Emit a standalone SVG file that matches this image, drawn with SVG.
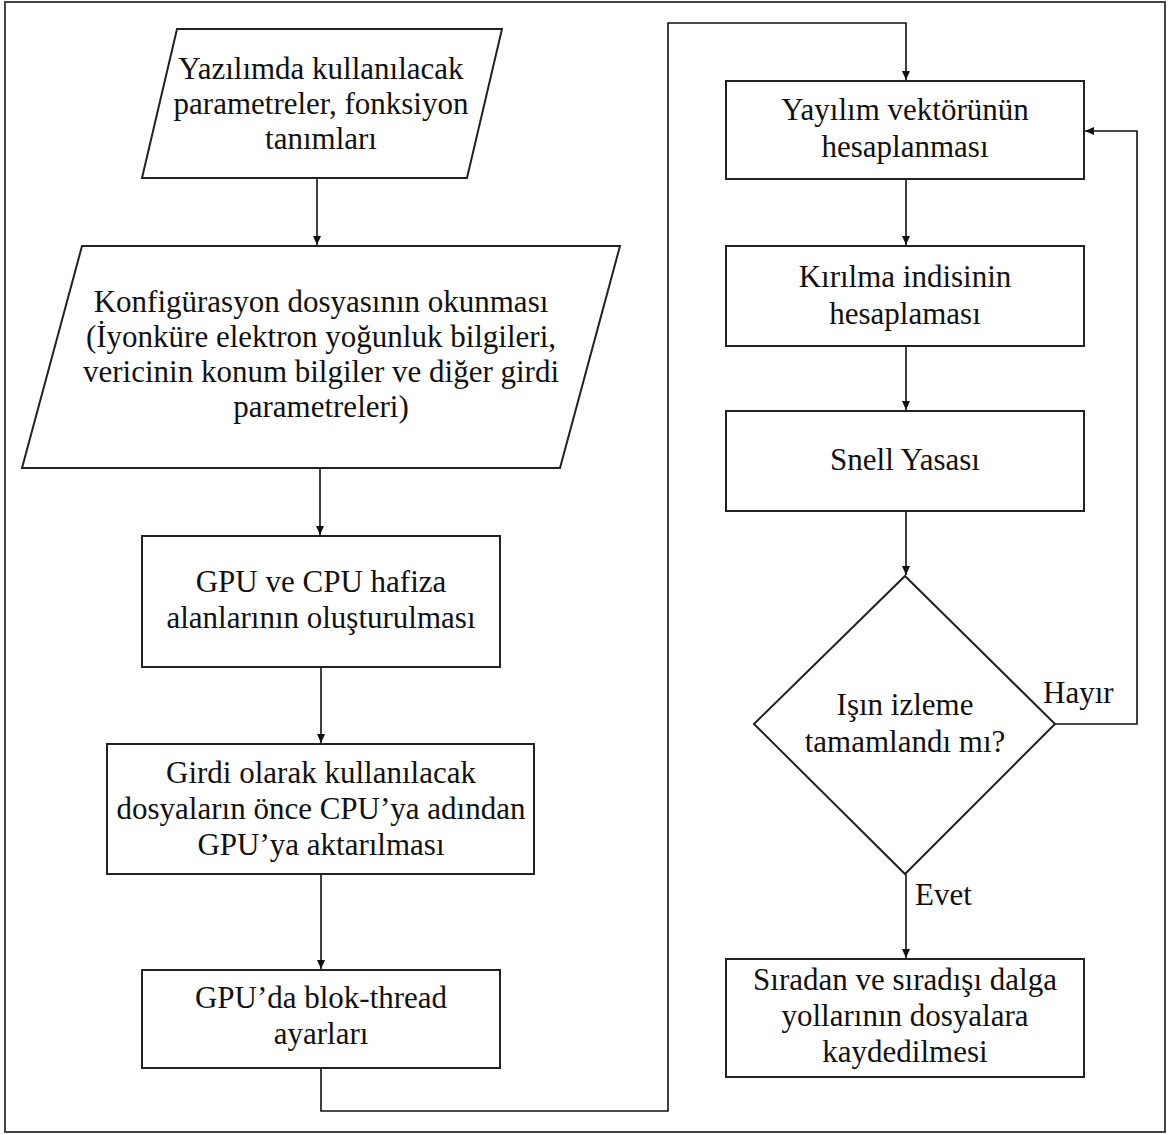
<svg xmlns="http://www.w3.org/2000/svg" width="1169" height="1135" viewBox="0 0 1169 1135">
<defs>
<marker id="arr" markerWidth="10" markerHeight="10" refX="9" refY="5" orient="auto" markerUnits="userSpaceOnUse">
<path d="M0,1 L9,5 L0,9 Z" fill="#111"/>
</marker>
<style>
.shape{fill:#fff;stroke:#222;stroke-width:2}
.t{font-family:'Liberation Serif','Times New Roman',serif;font-size:31px;fill:#111;text-anchor:middle}
.lbl{font-family:'Liberation Serif','Times New Roman',serif;font-size:31px;fill:#111}
.c{fill:none;stroke:#111;stroke-width:1.6}
</style>
</defs>
<rect x="0" y="0" width="1169" height="1135" fill="#fff"/>
<rect x="5" y="2" width="1160" height="1130" fill="none" stroke="#444" stroke-width="2"/>

<g id="connectors">
<line class="c" x1="317" y1="178" x2="317" y2="245" marker-end="url(#arr)"/>
<line class="c" x1="320" y1="468" x2="320" y2="535" marker-end="url(#arr)"/>
<line class="c" x1="321" y1="667" x2="321" y2="743" marker-end="url(#arr)"/>
<line class="c" x1="321" y1="874" x2="321" y2="969" marker-end="url(#arr)"/>
<polyline class="c" points="321,1068 321,1111 668,1111 668,23 906,23 906,80" marker-end="url(#arr)"/>
<line class="c" x1="906" y1="179" x2="906" y2="245" marker-end="url(#arr)"/>
<line class="c" x1="906" y1="346" x2="906" y2="410" marker-end="url(#arr)"/>
<line class="c" x1="906" y1="511" x2="906" y2="575" marker-end="url(#arr)"/>
<polyline class="c" points="1055,724 1137,724 1137,131 1085,131" marker-end="url(#arr)"/>
<line class="c" x1="906" y1="874" x2="906" y2="958" marker-end="url(#arr)"/>
<text class="lbl" x="1043" y="703">Hayır</text>
<text class="lbl" x="915" y="905">Evet</text>
</g>

<g id="n1">
<polygon class="shape" points="177,29 502,29 467,178 142,178"/>
<text class="t" x="321" y="79">Yazılımda kullanılacak</text>
<text class="t" x="321" y="114">parametreler, fonksiyon</text>
<text class="t" x="321" y="149">tanımları</text>
</g>

<g id="n2">
<polygon class="shape" points="82,246 620,246 560,468 22,468"/>
<text class="t" x="321" y="312">Konfigürasyon dosyasının okunması</text>
<text class="t" x="321" y="347">(İyonküre elektron yoğunluk bilgileri,</text>
<text class="t" x="321" y="382">vericinin konum bilgiler ve diğer girdi</text>
<text class="t" x="321" y="417">parametreleri)</text>
</g>

<g id="n3">
<rect class="shape" x="142" y="536" width="358" height="131"/>
<text class="t" x="321" y="592">GPU ve CPU hafiza</text>
<text class="t" x="321" y="628">alanlarının oluşturulması</text>
</g>

<g id="n4">
<rect class="shape" x="107" y="744" width="427" height="130"/>
<text class="t" x="321" y="783">Girdi olarak kullanılacak</text>
<text class="t" x="321" y="819">dosyaların önce CPU’ya adından</text>
<text class="t" x="321" y="855">GPU’ya aktarılması</text>
</g>

<g id="n5">
<rect class="shape" x="142" y="970" width="358" height="98"/>
<text class="t" x="321" y="1008">GPU’da blok-thread</text>
<text class="t" x="321" y="1044">ayarları</text>
</g>

<g id="n6">
<rect class="shape" x="726" y="81" width="358" height="98"/>
<text class="t" x="905" y="120">Yayılım vektörünün</text>
<text class="t" x="905" y="157">hesaplanması</text>
</g>

<g id="n7">
<rect class="shape" x="726" y="246" width="358" height="100"/>
<text class="t" x="905" y="287">Kırılma indisinin</text>
<text class="t" x="905" y="324">hesaplaması</text>
</g>

<g id="n8">
<rect class="shape" x="726" y="411" width="358" height="100"/>
<text class="t" x="905" y="470">Snell Yasası</text>
</g>

<g id="n9">
<polygon class="shape" points="905,576 1055,724 905,874 754,724"/>
<text class="t" x="905" y="715">Işın izleme</text>
<text class="t" x="905" y="752">tamamlandı mı?</text>
</g>

<g id="n10">
<rect class="shape" x="726" y="959" width="358" height="118"/>
<text class="t" x="905" y="990">Sıradan ve sıradışı dalga</text>
<text class="t" x="905" y="1026">yollarının dosyalara</text>
<text class="t" x="905" y="1062">kaydedilmesi</text>
</g>
</svg>
